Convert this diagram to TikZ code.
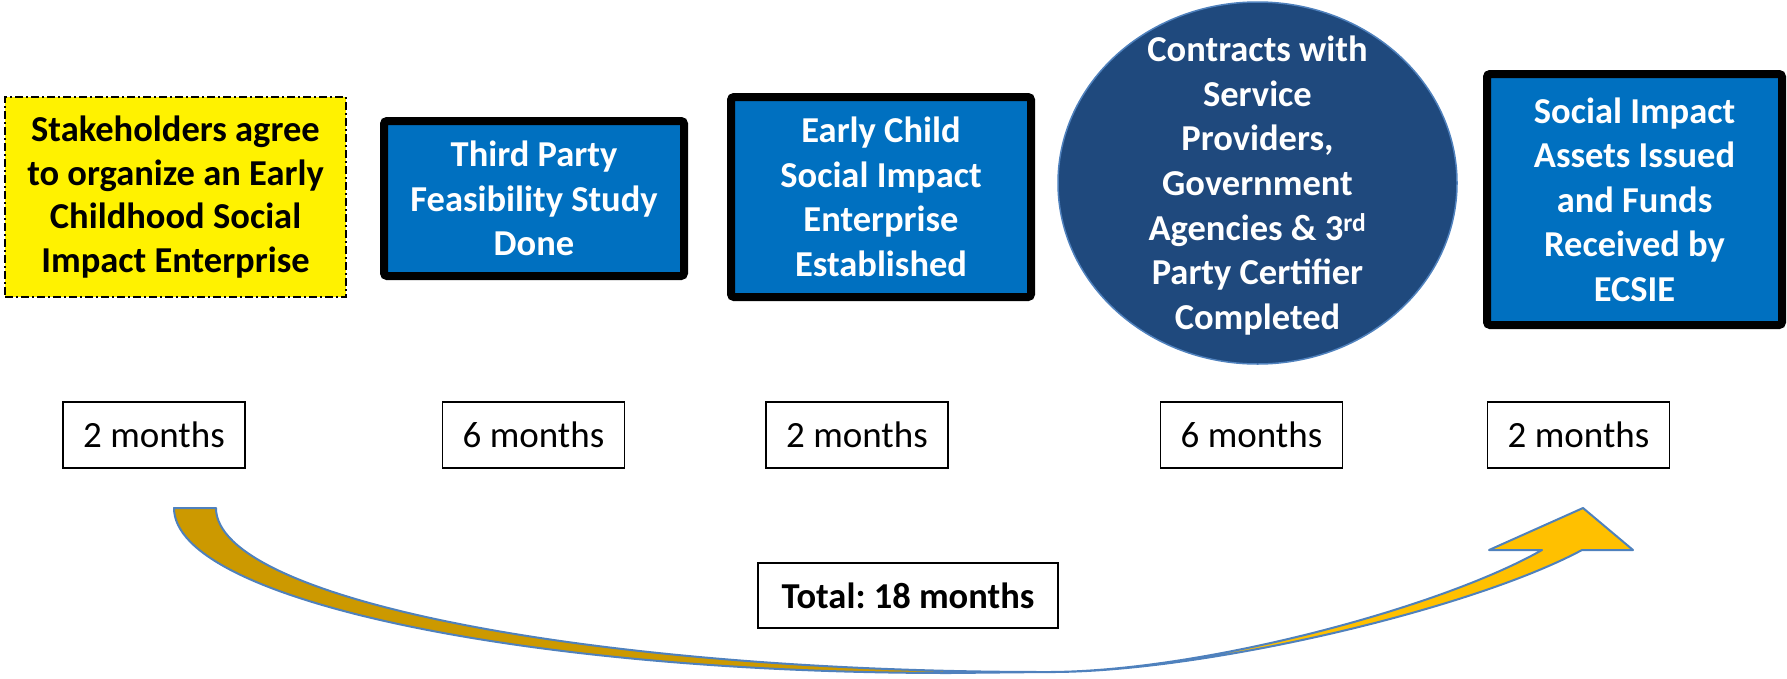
\documentclass[tikz,border=0pt]{standalone}
\usepackage{fontspec}
\setmainfont{Carlito}
\usetikzlibrary{shapes.geometric}
\definecolor{stageblue}{HTML}{0070C0}
\definecolor{circblue}{HTML}{1F497D}
\definecolor{rimblue}{HTML}{4F81BD}
\definecolor{darkgold}{HTML}{CC9900}
\definecolor{lightgold}{HTML}{FFC000}

\begin{document}
\begin{tikzpicture}[x=1pt, y=-1pt,
  stage/.style={draw=black, line width=8pt, rounded corners=3pt, fill=stageblue, text=white,
    font=\bfseries\fontsize{36.5}{44.5}\selectfont, align=center, inner sep=0pt, minimum width=300pt},
  dur/.style={draw=black, line width=1.5pt, minimum width=182pt, minimum height=66pt,
    font=\fontsize{37}{44}\selectfont, inner sep=0pt}]
\useasboundingbox (0,0) rectangle (1787,678);

% the five steps
\node[draw=black, line width=1.5pt, dash pattern=on 8pt off 3pt on 2pt off 3pt, fill=yellow,
  minimum width=341pt, minimum height=200pt, align=center, inner sep=0pt,
  font=\bfseries\fontsize{36.5}{43.5}\selectfont] (agree) at (175.5,197)
  {Stakeholders agree\\to organize an Early\\Childhood Social\\Impact Enterprise};
\node[stage, minimum height=155pt] (study) at (534,198.5) {Third Party\\Feasibility Study\\Done};
\node[stage, minimum height=200pt] (enterprise) at (881,197) {Early Child\\Social Impact\\Enterprise\\Established};
\node[ellipse, draw=rimblue, line width=1.5pt, fill=circblue, minimum width=399pt,
  minimum height=362pt, inner sep=0pt] (contracts) at (1257.5,183) {};
\node[text=white, align=center, inner sep=0pt, font=\bfseries\fontsize{36.5}{44.7}\selectfont]
  (contractstext) at ([yshift=-2.5pt]contracts.center)
  {Contracts with\\Service\\Providers,\\Government\\Agencies \& 3\textsuperscript{rd}\\Party Certifier\\Completed};
\node[stage, minimum width=295pt, minimum height=251pt] (assets) at (1634.5,199.5)
  {Social Impact\\Assets Issued\\and Funds\\Received by\\ECSIE};

% durations
\node[dur] (dagree) at (154,435) {2 months};
\node[dur] (dstudy) at (533.5,435) {6 months};
\node[dur] (denterprise) at (857,435) {2 months};
\node[dur] (dcontracts) at (1251.5,435) {6 months};
\node[dur] (dassets) at (1578.5,435) {2 months};

% big curved arrow
\coordinate (tailL) at (174,508);
\coordinate (tailR) at (216,508);
\coordinate (turn) at (1047,672);
\coordinate (tip) at (1583,508);
\filldraw[fill=darkgold, draw=rimblue, line width=2pt, line join=round]
  (tailL) -- (tailR) .. controls (216,598.6) and (588,672) .. (turn)
  -- (950,673) .. controls (521,673) and (174,599) .. (tailL) -- cycle;
\filldraw[fill=lightgold, draw=rimblue, line width=2pt, line join=round]
  (turn) .. controls (1200,673) and (1470,610) .. (1582,550) -- (1633,550) -- (tip)
  -- (1489,550) -- (1542,550) .. controls (1440,608) and (1200,672) .. (turn) -- cycle;

\node[draw=black, line width=1.5pt, minimum width=300pt, minimum height=65pt, inner sep=0pt,
  font=\bfseries\fontsize{36.5}{44}\selectfont] (total) at (908,595.5) {Total:\ 18 months};
\end{tikzpicture}
\end{document}
